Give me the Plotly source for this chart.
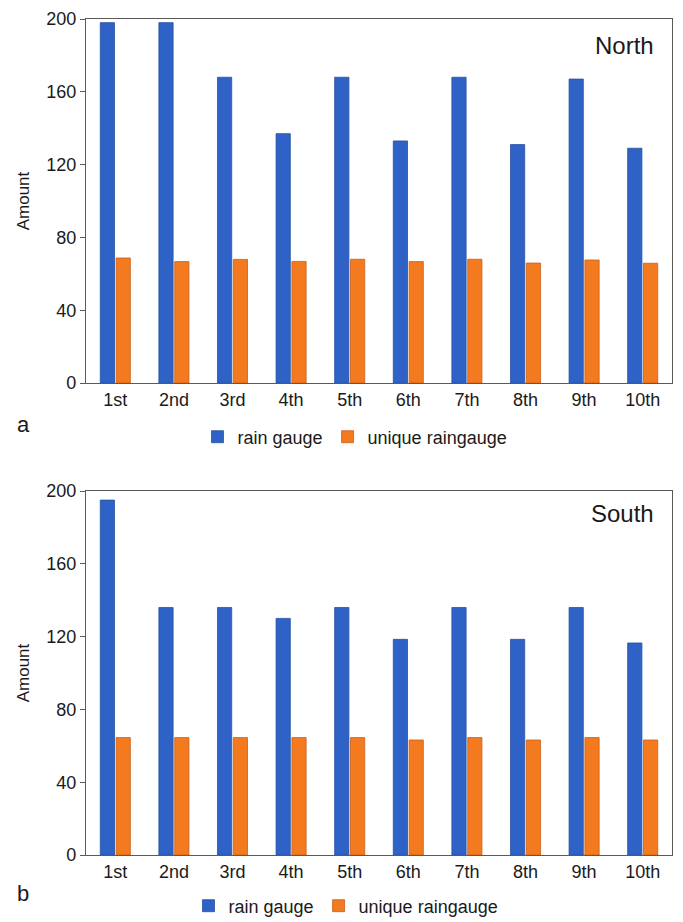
import plotly.graph_objects as go

categories = ["1st", "2nd", "3rd", "4th", "5th", "6th", "7th", "8th", "9th", "10th"]
north_rain_gauge = [198, 198, 168, 137, 168, 133, 168, 131, 167, 129]
north_unique = [68.7, 66.7, 67.9, 66.8, 68, 66.7, 68, 65.9, 67.6, 65.8]
south_rain_gauge = [195, 136, 136, 130, 136, 118.5, 136, 118.5, 136, 116.5]
south_unique = [64.5, 64.5, 64.5, 64.5, 64.5, 63.2, 64.5, 63.2, 64.5, 63.2]
series_names = ["rain gauge", "unique raingauge"]
y_ticks = [0, 40, 80, 120, 160, 200]

BLUE = "#2f62c6"
BLUE_EDGE = "#27529f"
ORANGE = "#f47a20"
ORANGE_EDGE = "#c8601a"
FONT = "Liberation Sans, Arial, sans-serif"
TXT = "#1a1a1a"

# page body has an 8px margin: figure pixel = reference pixel - 8
W, H = 667, 914
OFF = 8
def px_x(p):
    return (p - OFF) / W
def px_y(p):
    return 1 - (p - OFF) / H

fig = go.Figure()

fig.add_trace(go.Bar(x=categories, y=north_rain_gauge, name=series_names[0],
                     marker=dict(color=BLUE, line=dict(color=BLUE_EDGE, width=0.8)),
                     xaxis="x", yaxis="y", legend="legend"))
fig.add_trace(go.Bar(x=categories, y=north_unique, name=series_names[1],
                     marker=dict(color=ORANGE, line=dict(color=ORANGE_EDGE, width=0.8)),
                     xaxis="x", yaxis="y", legend="legend"))
fig.add_trace(go.Bar(x=categories, y=south_rain_gauge, name=series_names[0],
                     marker=dict(color=BLUE, line=dict(color=BLUE_EDGE, width=0.8)),
                     xaxis="x2", yaxis="y2", legend="legend2"))
fig.add_trace(go.Bar(x=categories, y=south_unique, name=series_names[1],
                     marker=dict(color=ORANGE, line=dict(color=ORANGE_EDGE, width=0.8)),
                     xaxis="x2", yaxis="y2", legend="legend2"))

xdom = [px_x(86), px_x(672)]
axis_common_x = dict(domain=xdom, showline=True, linecolor="#5a5a5a", linewidth=1.2,
                     mirror=True, ticks="", showgrid=False,
                     tickfont=dict(family=FONT, size=18, color=TXT))
axis_common_y = dict(range=[0, 200], tickvals=y_ticks, showline=True, linecolor="#5a5a5a",
                     linewidth=1.2, mirror=True, ticks="outside", ticklen=5,
                     tickcolor="#5a5a5a", showgrid=False, zeroline=False,
                     tickfont=dict(family=FONT, size=18, color=TXT),
                     title=dict(text="Amount", font=dict(family=FONT, size=17, color=TXT),
                                standoff=12))

fig.update_layout(
    width=W, height=H,
    margin=dict(l=0, r=0, t=0, b=0, autoexpand=False),
    paper_bgcolor="white", plot_bgcolor="white",
    barmode="group", bargap=0.46, bargroupgap=0.1,
    xaxis=dict(axis_common_x, anchor="y"),
    yaxis=dict(axis_common_y, domain=[px_y(383), px_y(19)], anchor="x"),
    xaxis2=dict(axis_common_x, anchor="y2"),
    yaxis2=dict(axis_common_y, domain=[px_y(855), px_y(491)], anchor="x2"),
    legend=dict(orientation="h", x=px_x(355), xanchor="center", y=px_y(437), yanchor="middle",
                font=dict(family=FONT, size=18, color=TXT), bgcolor="rgba(0,0,0,0)"),
    legend2=dict(orientation="h", x=px_x(346), xanchor="center", y=px_y(906), yanchor="middle",
                 font=dict(family=FONT, size=18, color=TXT), bgcolor="rgba(0,0,0,0)"),
    showlegend=True,
)

annots = [
    dict(text="North", x=px_x(656), y=px_y(45), xanchor="right", yanchor="middle", size=24),
    dict(text="South", x=px_x(656), y=px_y(514), xanchor="right", yanchor="middle", size=24),
    dict(text="a", x=px_x(15), y=px_y(424), xanchor="left", yanchor="middle", size=22),
    dict(text="b", x=px_x(15), y=px_y(893), xanchor="left", yanchor="middle", size=22),
]
for a in annots:
    size = a.pop("size")
    fig.add_annotation(xref="paper", yref="paper", showarrow=False,
                       font=dict(family=FONT, size=size, color=TXT), **a)

fig.write_html("out.html")
